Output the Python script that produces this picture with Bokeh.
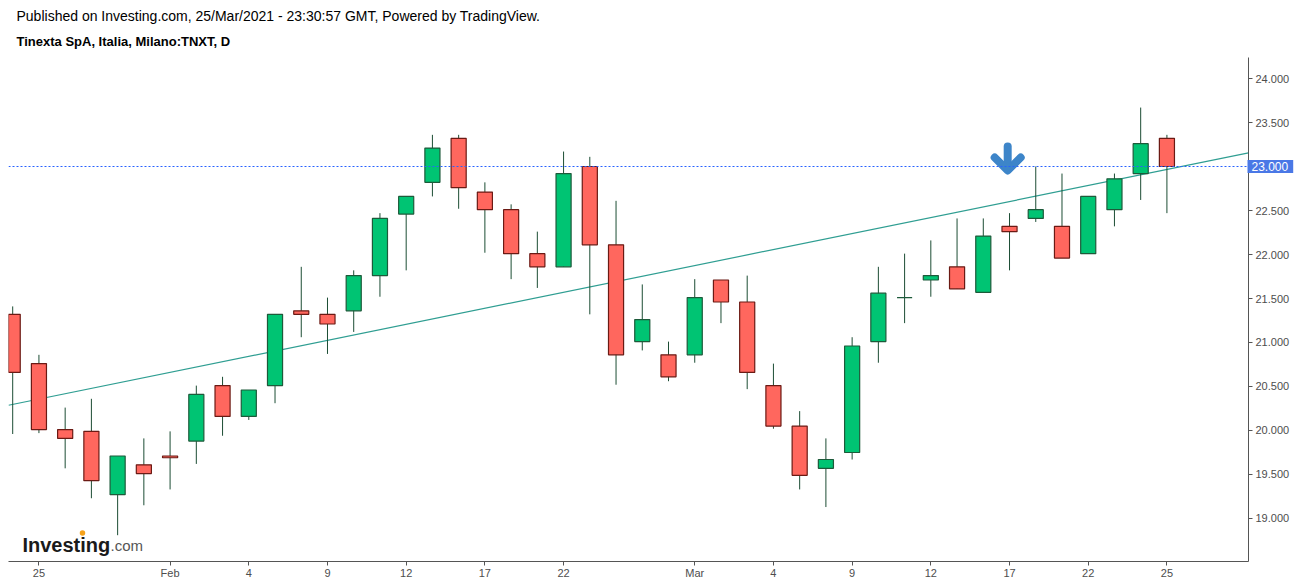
import pandas as pd
from bokeh.plotting import figure
from bokeh.models import (Range1d, LinearAxis, FixedTicker, Title, Label, Span,
                          NumeralTickFormatter, ColumnDataSource)
from bokeh.core.properties import value
from bokeh.embed import file_html
from bokeh.resources import INLINE

# ---------------- data ----------------
dates = list(pd.bdate_range("2021-01-22", "2021-03-25").strftime("%Y-%m-%d"))
opens = [21.32, 20.76, 20.01, 19.99, 19.27, 19.61, 19.71, 19.88, 20.51, 20.16,
         20.51, 21.36, 21.32, 21.36, 21.76, 22.46, 22.82, 23.32, 22.71, 22.51,
         22.01, 21.86, 23.00, 22.11, 21.01, 20.86, 20.86, 21.71, 21.46, 20.51,
         20.05, 19.57, 19.75, 21.01, 21.51, 21.71, 21.86, 21.57, 22.32, 22.41,
         22.32, 22.01, 22.51, 22.92, 23.32]
highs = [21.41, 20.86, 20.26, 20.36, 19.71, 19.91, 19.99, 20.51, 20.61, 20.46,
         21.32, 21.86, 21.51, 21.82, 22.47, 22.66, 23.36, 23.36, 22.82, 22.57,
         22.26, 23.17, 23.11, 22.61, 21.66, 21.01, 21.72, 21.71, 21.76, 20.76,
         20.22, 19.91, 21.06, 21.86, 22.01, 22.16, 22.41, 22.41, 22.47, 23.00,
         22.92, 22.66, 22.92, 23.67, 23.36]
lows = [19.96, 19.97, 19.57, 19.23, 18.81, 19.15, 19.33, 19.62, 19.94, 20.12,
        20.31, 21.06, 20.87, 21.12, 21.52, 21.82, 22.66, 22.52, 22.02, 21.72,
        21.62, 21.86, 21.32, 20.52, 20.91, 20.56, 20.77, 21.22, 20.47, 20.02,
        19.33, 19.13, 19.67, 20.77, 21.22, 21.52, 21.61, 21.57, 21.82, 22.37,
        21.96, 22.01, 22.32, 22.62, 22.47]
closes = [20.66, 20.01, 19.91, 19.43, 19.71, 19.51, 19.69, 20.41, 20.16, 20.46,
          21.32, 21.32, 21.21, 21.76, 22.41, 22.66, 23.21, 22.76, 22.51, 22.01,
          21.86, 22.92, 22.11, 20.86, 21.26, 20.61, 21.51, 21.46, 20.66, 20.05,
          19.49, 19.67, 20.96, 21.56, 21.51, 21.76, 21.61, 22.21, 22.26, 22.51,
          21.96, 22.66, 22.86, 23.26, 23.00]

tick_dates = ["2021-01-25", "2021-02-01", "2021-02-04", "2021-02-09", "2021-02-12",
              "2021-02-17", "2021-02-22", "2021-03-01", "2021-03-04", "2021-03-09",
              "2021-03-12", "2021-03-17", "2021-03-22", "2021-03-25"]
tick_labels = ["25", "Feb", "4", "9", "12", "17", "22", "Mar", "4", "9", "12", "17", "22", "25"]
price_ticks = [19.0, 19.5, 20.0, 20.5, 21.0, 21.5, 22.0, 22.5, 23.0, 23.5, 24.0]

trend_x = [-0.16, 47.11]          # trend line end points (bar index, price)
trend_y = [20.287, 23.155]
last_price = 23.0
arrow_x = 37.93                   # arrow marker position (bar index)
arrow_tip = 22.955                # arrow tip price

title1 = "Published on Investing.com, 25/Mar/2021 - 23:30:57 GMT, Powered by TradingView."
title2 = "Tinexta SpA, Italia, Milano:TNXT, D"

# ---------------- styles ----------------
FONT = "Liberation Sans"
UP_FILL, UP_LINE = "#00c473", "#1d5a3a"
DN_FILL, DN_LINE = "#ff675e", "#6b1a14"
WICK = "#1c4d34"
AXIS = "#555555"

X0, X1 = -0.16, 47.11
Y0, Y1 = 18.511, 24.239
FW, FH = 1240, 504
sx = FW / (X1 - X0)
sy = FH / (Y1 - Y0)

xs = list(range(len(dates)))
up = [c >= o for o, c in zip(opens, closes)]
src = ColumnDataSource(dict(
    x=xs, high=highs, low=lows,
    top=[max(o, c) for o, c in zip(opens, closes)],
    bottom=[min(o, c) for o, c in zip(opens, closes)],
    fill=[UP_FILL if u else DN_FILL for u in up],
    line=[UP_LINE if u else DN_LINE for u in up],
))

p = figure(frame_width=FW, frame_height=FH, x_range=Range1d(X0, X1), y_range=Range1d(Y0, Y1),
           output_backend="svg", toolbar_location=None,
           x_axis_location=None, y_axis_location=None, margin=(5, 0, 0, 0),
           min_border_left=8, min_border_right=0, min_border_top=0, min_border_bottom=0)
p.outline_line_color = None
p.grid.visible = False
p.background_fill_color = "white"
p.border_fill_color = "white"

# axes
xaxis = LinearAxis(ticker=FixedTicker(ticks=[dates.index(d) for d in tick_dates]),
                   major_label_overrides={dates.index(d): l for d, l in zip(tick_dates, tick_labels)})
yaxis = LinearAxis(ticker=FixedTicker(ticks=price_ticks), formatter=NumeralTickFormatter(format="0.000"))
for ax in (xaxis, yaxis):
    ax.axis_line_color = AXIS
    ax.major_tick_line_color = AXIS
    ax.major_tick_out = 4
    ax.major_tick_in = 0
    ax.minor_tick_out = 0
    ax.minor_tick_in = 0
    ax.major_label_text_font = FONT
    ax.major_label_text_font_size = "11px"
    ax.major_label_text_color = "#4d4d4d"
xaxis.major_label_standoff = 1
yaxis.major_label_standoff = 3
p.add_layout(xaxis, "below")
p.add_layout(yaxis, "right")

# titles (first added is closest to the plot)
p.add_layout(Title(text=title2, align="left", offset=8, text_font=FONT, text_font_size="13px",
                   text_font_style="bold", text_color="#000000", standoff=17), "above")
p.add_layout(Title(text=title1, align="left", offset=8, text_font=FONT, text_font_size="14px",
                   text_font_style="normal", text_color="#000000", standoff=0), "above")

# trend line and last price line
p.line(trend_x, trend_y, line_color="#2f9e92", line_width=1.2)
p.add_layout(Span(location=last_price, dimension="width", line_color="#2962ff",
                  line_dash="2 2", line_width=1.2))

# candles
p.segment(x0="x", y0="high", x1="x", y1="low", source=src, line_color=WICK, line_width=1)
p.vbar(x="x", width=0.575, top="top", bottom="bottom", source=src,
       fill_color="fill", line_color="line", line_width=1.2)

# arrow marker (offsets in pixels converted to data units)
ax_ = arrow_x
p.multi_line(
    xs=[[ax_, ax_], [ax_ - 13 / sx, ax_, ax_ + 13 / sx]],
    ys=[[arrow_tip + 24 / sy, arrow_tip + 3 / sy],
        [arrow_tip + 13 / sy, arrow_tip, arrow_tip + 13 / sy]],
    line_color="#3d85c9", line_width=8, line_cap="round", line_join="round")

# last price label on the price scale (side panel placed after the axis)
p.add_layout(Label(x=-45, y=last_price, x_units="screen", y_units="data", text=f"{last_price:.3f}",
                   text_color="white", text_font=FONT, text_font_size="12px",
                   text_baseline="middle", text_align="left",
                   background_fill_color="#4a78e6",
                   padding=dict(left=4, right=5, top=2, bottom=2)), "right")

# logo
p.text(x=[0.37], y=[18.693], text=["Investing"], text_font=value(FONT), text_font_style="bold",
       text_font_size="20px", text_color="#1a1a1a", text_baseline="alphabetic")
p.scatter(x=[2.66], y=[18.835], size=5.5, marker="circle", fill_color="#f5a21c", line_color=None)
p.text(x=[3.73], y=[18.693], text=[".com"], text_font=value(FONT),
       text_font_size="15px", text_color="#555555", text_baseline="alphabetic")

open("out.html", "w").write(file_html(p, INLINE))
